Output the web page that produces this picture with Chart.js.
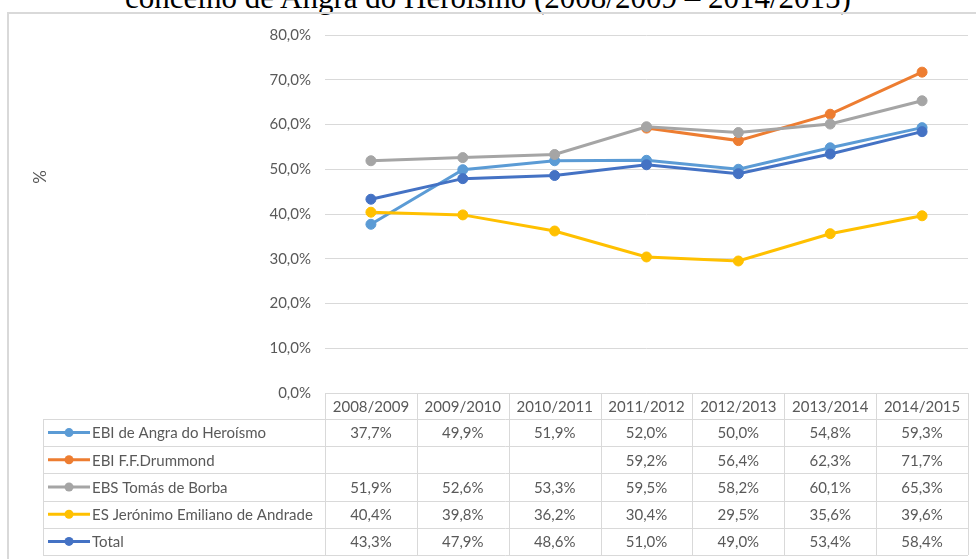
<!DOCTYPE html>
<html>
<head>
<meta charset="utf-8">
<script src="https://cdn.jsdelivr.net/npm/chart.js@4/dist/chart.umd.min.js"></script>
<style>
    body { margin: 0; background: #fff; overflow: hidden; }
    #title {
        position: absolute; left: 0; top: -18px; width: 976px;
        text-align: center; white-space: nowrap;
        font-family: "Liberation Serif", serif; font-size: 31px; line-height: 31px; color: #000;
    }
    #frame {
        position: absolute; left: 7px; top: 12px; width: 1000px; height: 600px;
        border: 2px solid #d9d9d9; box-sizing: border-box;
    }
    #wrap { position: absolute; left: 0; top: 0; width: 976px; height: 559px; }
</style>
</head>
<body>
<div id="title">concelho de Angra do Heroísmo (2008/2009 – 2014/2015)</div>
<div id="frame"></div>
<div id="wrap"><canvas id="lineChart"></canvas></div>
<script>
// Data
const categories = ['2008/2009', '2009/2010', '2010/2011', '2011/2012', '2012/2013', '2013/2014', '2014/2015'];
const seriesNames = ['EBI de Angra do Heroísmo', 'EBI F.F.Drummond', 'EBS Tomás de Borba', 'ES Jerónimo Emiliano de Andrade', 'Total'];
const angra = [37.7, 49.9, 51.9, 52.0, 50.0, 54.8, 59.3];
const drummond = [null, null, null, 59.2, 56.4, 62.3, 71.7];
const borba = [51.9, 52.6, 53.3, 59.5, 58.2, 60.1, 65.3];
const andrade = [40.4, 39.8, 36.2, 30.4, 29.5, 35.6, 39.6];
const total = [43.3, 47.9, 48.6, 51.0, 49.0, 53.4, 58.4];
const yMin = 0, yMax = 80, yStep = 10;

const colors = ['#5b9bd5', '#ed7d31', '#a5a5a5', '#ffc000', '#4472c4'];
const seriesValues = [angra, drummond, borba, andrade, total];
const textColor = '#595959';
const fontFamily = 'Lato, "Noto Sans", sans-serif';
const fontSize = 15;

function pct(v) {
    return v.toFixed(1).replace('.', ',') + '%';
}

// Draws the data table (with legend keys) under the plot, plus the "%" axis title
const dataTablePlugin = {
    id: 'dataTable',
    afterDraw(chart) {
        const ctx = chart.ctx;
        const area = chart.chartArea;
        const xScale = chart.scales.x;
        const colW = (area.right - area.left) / categories.length;
        const top = area.bottom;
        const headH = 26;
        const rowH = 27.2;
        const labelLeft = 43;
        const bottom = top + headH + rowH * seriesNames.length;

        ctx.save();
        ctx.strokeStyle = '#d9d9d9';
        ctx.lineWidth = 1;
        ctx.beginPath();
        ctx.moveTo(area.left, top + 0.5);
        ctx.lineTo(area.right, top + 0.5);
        for (let i = 0; i <= categories.length; i++) {
            const xx = Math.round(area.left + i * colW) + 0.5;
            ctx.moveTo(xx, top);
            ctx.lineTo(xx, bottom);
        }
        ctx.moveTo(labelLeft + 0.5, top + headH);
        ctx.lineTo(labelLeft + 0.5, bottom);
        for (let r = 0; r <= seriesNames.length; r++) {
            const yy = Math.round(top + headH + r * rowH) + 0.5;
            ctx.moveTo(labelLeft, yy);
            ctx.lineTo(area.right, yy);
        }
        ctx.stroke();

        ctx.font = fontSize + 'px ' + fontFamily;
        ctx.fillStyle = textColor;
        ctx.textBaseline = 'middle';
        ctx.textAlign = 'center';
        categories.forEach((c, i) => {
            ctx.fillText(c, xScale.getPixelForValue(i), top + headH / 2 + 1);
        });

        seriesNames.forEach((name, r) => {
            const cy = top + headH + r * rowH + rowH / 2;
            // legend key
            ctx.strokeStyle = colors[r];
            ctx.lineWidth = 3;
            ctx.beginPath();
            ctx.moveTo(48, cy);
            ctx.lineTo(90, cy);
            ctx.stroke();
            ctx.fillStyle = colors[r];
            ctx.beginPath();
            ctx.arc(69, cy, 4.5, 0, Math.PI * 2);
            ctx.fill();

            ctx.fillStyle = textColor;
            ctx.textAlign = 'left';
            ctx.fillText(name, 92, cy + 1);
            ctx.textAlign = 'center';
            seriesValues[r].forEach((v, i) => {
                if (v === null) return;
                ctx.fillText(pct(v), xScale.getPixelForValue(i), cy + 1);
            });
        });

        // y axis title
        ctx.font = '17px ' + fontFamily;
        ctx.translate(41, 177);
        ctx.rotate(-Math.PI / 2);
        ctx.fillText('%', 0, 0);
        ctx.restore();
    }
};

const datasets = seriesNames.map((name, i) => ({
    label: name,
    data: seriesValues[i],
    borderColor: colors[i],
    backgroundColor: colors[i],
    borderWidth: 3,
    pointRadius: 5,
    pointHoverRadius: 5,
    pointBorderWidth: 1,
    spanGaps: false,
    order: seriesNames.length - i
}));

new Chart(document.getElementById('lineChart'), {
    type: 'line',
    data: {
        labels: categories,
        datasets: datasets
    },
    options: {
        responsive: true,
        maintainAspectRatio: false,
        animation: false,
        layout: {
            padding: { left: 0, right: 8, top: 35, bottom: 166 }
        },
        plugins: {
            legend: { display: false },
            tooltip: { enabled: false }
        },
        scales: {
            x: {
                display: false,
                offset: true
            },
            y: {
                min: yMin,
                max: yMax,
                ticks: {
                    stepSize: yStep,
                    padding: 14,
                    color: textColor,
                    font: { family: fontFamily, size: fontSize },
                    callback: v => pct(v)
                },
                grid: {
                    color: '#d9d9d9',
                    drawTicks: false
                },
                border: { display: false },
                afterFit(scale) {
                    scale.width = 325;
                }
            }
        }
    },
    plugins: [dataTablePlugin]
});
</script>
</body>
</html>
